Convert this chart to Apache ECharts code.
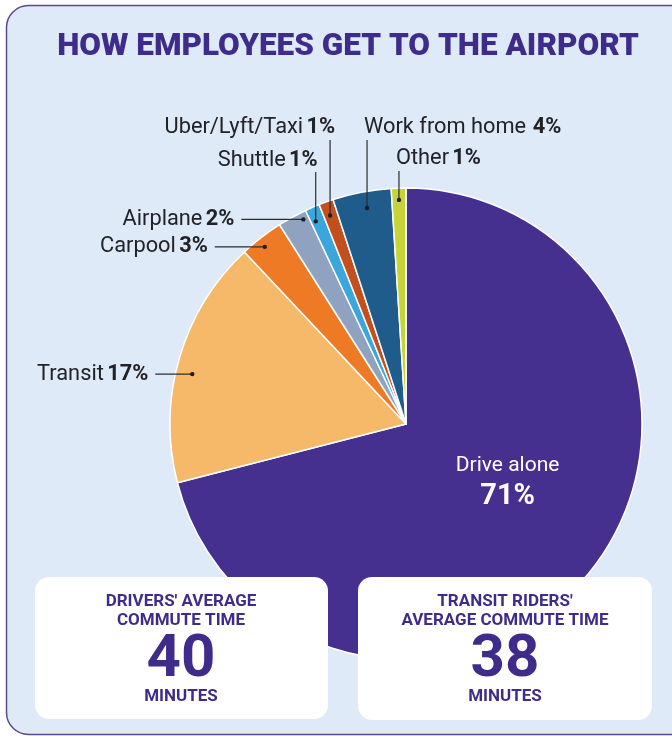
<!DOCTYPE html>
<html>
<head>
<meta charset="utf-8">
<script src="https://cdn.jsdelivr.net/npm/echarts@6/dist/echarts.min.js"></script>
<style>
html,body{margin:0;padding:0;background:#ffffff;}
#chart{width:672px;height:736px;}
</style>
</head>
<body>
<div id="chart"></div>
<script>
// ---- data ----
const titleText = 'HOW EMPLOYEES GET TO THE AIRPORT';
const categories = ['Drive alone', 'Transit', 'Carpool', 'Airplane', 'Shuttle', 'Uber/Lyft/Taxi', 'Work from home', 'Other'];
const shares = [71, 17, 3, 2, 1, 1, 4, 1];
const driversHeading = ["DRIVERS' AVERAGE", 'COMMUTE TIME'];
const driversMinutes = 40;
const transitHeading = ["TRANSIT RIDERS'", 'AVERAGE COMMUTE TIME'];
const transitMinutes = 38;
const minutesUnit = 'MINUTES';

// ---- styles / layout ----
const palette = ['#45308f', '#f6b96a', '#ee7a26', '#8fa2bf', '#3aa6dc', '#c34f1f', '#1f5b8b', '#c5d438'];
const PURPLE = '#3f2c8a';
const CX = 406, CY = 424, R = 236;
const LABEL_FONT = 'Roboto';
const LABEL_SIZE = 21.8;

// where the leader dot sits inside each slice (fraction through slice, radius factor) and where its label goes
const labelPlace = {
  1: {frac: 0.45, rk: 0.93, type: 'left', gap: 44},
  2: {frac: 0.43, rk: 0.96, type: 'left', gap: 57},
  3: {frac: 0.80, rk: 0.97, type: 'left', gap: 69},
  4: {frac: 0.33, rk: 0.94, type: 'top', align: 'right', dx: 2, y: 161, lineTop: 172},
  5: {frac: 0.44, rk: 0.94, type: 'top', align: 'right', dx: 5, y: 128, lineTop: 140},
  6: {frac: 0.54, rk: 0.93, type: 'top', align: 'left', dx: -3, y: 128, lineTop: 140},
  7: {frac: 0.50, rk: 0.95, type: 'top', align: 'left', dx: -3, y: 159, lineTop: 171}
};

// anchor points in polar (radius fraction, cumulative percent) derived from the data
const anchorData = [];
let cum = 0;
shares.forEach((s, i) => {
  const start = cum;
  cum += s;
  if (labelPlace[i]) anchorData.push([labelPlace[i].rk, start + s * labelPlace[i].frac, i]);
});

const pieData = categories.map((c, i) => {
  const d = {name: c, value: shares[i], itemStyle: {color: palette[i]}};
  if (i === 0) {
    d.label = {
      show: true,
      position: 'inside',
      formatter: p => `{w|${p.name}}\n{wb|${p.value}%}`,
      rich: {
        w: {color: '#ffffff', fontSize: 21, fontFamily: LABEL_FONT, lineHeight: 30, align: 'center'},
        wb: {color: '#ffffff', fontSize: 29, fontWeight: 'bold', fontFamily: LABEL_FONT, lineHeight: 32, align: 'center'}
      }
    };
  }
  return d;
});

function renderAnchor(params, api) {
  const i = api.value(2);
  const pt = api.coord([api.value(0), api.value(1)]);
  const L = labelPlace[i];
  const sep = categories[i] === 'Work from home' ? '  ' : ' ';
  const text = `{n|${categories[i]}}${sep}{b|${shares[i]}%}`;
  let tx, ty, align, linePts;
  if (L.type === 'left') {
    tx = pt[0] - L.gap; ty = pt[1]; align = 'right';
    linePts = [[pt[0], pt[1]], [tx + 7, pt[1]]];
  } else {
    tx = pt[0] + L.dx; ty = L.y; align = L.align;
    linePts = [[pt[0], pt[1]], [pt[0], L.lineTop]];
  }
  return {
    type: 'group',
    children: [
      {type: 'polyline', shape: {points: linePts}, style: {stroke: '#2b2b30', lineWidth: 1.2, fill: null}},
      {type: 'circle', shape: {cx: pt[0], cy: pt[1], r: 2.2}, style: {fill: '#1c1c22'}},
      {type: 'text', style: {
        x: tx, y: ty, text: text, align: align, verticalAlign: 'middle',
        textAlign: align, textVerticalAlign: 'middle',
        rich: {
          n: {fill: '#222227', fontSize: LABEL_SIZE, fontFamily: LABEL_FONT},
          b: {fill: '#222227', fontSize: LABEL_SIZE, fontWeight: 'bold', fontFamily: LABEL_FONT}
        }
      }}
    ]
  };
}

const chart = echarts.init(document.getElementById('chart'), null, {renderer: 'canvas'});

function boxTexts(cx, heading, minutes) {
  return [
    {type: 'text', z: 20, style: {x: cx, y: 602, text: heading[0], textAlign: 'center', textVerticalAlign: 'middle', fill: PURPLE, font: 'bold 17px Roboto'}},
    {type: 'text', z: 20, style: {x: cx, y: 621, text: heading[1], textAlign: 'center', textVerticalAlign: 'middle', fill: PURPLE, font: 'bold 17px Roboto'}},
    {type: 'text', z: 20, style: {x: cx, y: 661, text: String(minutes), textAlign: 'center', textVerticalAlign: 'middle', fill: PURPLE, font: 'bold 60px Roboto'}},
    {type: 'text', z: 20, style: {x: cx, y: 697, text: minutesUnit, textAlign: 'center', textVerticalAlign: 'middle', fill: PURPLE, font: 'bold 17px Roboto'}}
  ];
}

const option = {
  animation: false,
  backgroundColor: '#ffffff',
  polar: {center: [CX, CY], radius: R},
  angleAxis: {type: 'value', min: 0, max: 100, startAngle: 90, clockwise: true, show: false},
  radiusAxis: {type: 'value', min: 0, max: 1, show: false},
  graphic: {
    elements: [
      {type: 'rect', z: -5, shape: {x: 6.5, y: 5.5, width: 720, height: 729, r: 22},
        style: {fill: '#deeaf7', stroke: '#5a4a8c', lineWidth: 1.5}},
      {type: 'text', z: 1, style: {x: 348, y: 47, text: titleText, textAlign: 'center', textVerticalAlign: 'middle', fill: PURPLE, font: '900 31.5px Roboto'}},
      {type: 'rect', z: 10, shape: {x: 35, y: 577, width: 293, height: 142, r: 14}, style: {fill: '#ffffff'}},
      {type: 'rect', z: 10, shape: {x: 358, y: 577, width: 294, height: 143, r: 14}, style: {fill: '#ffffff'}}
    ].concat(boxTexts(181, driversHeading, driversMinutes), boxTexts(505, transitHeading, transitMinutes))
  },
  series: [
    {
      type: 'pie',
      z: 2,
      center: [CX, CY],
      radius: [0, R],
      startAngle: 90,
      clockwise: true,
      avoidLabelOverlap: false,
      silent: true,
      itemStyle: {borderColor: '#ffffff', borderWidth: 1.5},
      label: {show: false},
      labelLine: {show: false},
      labelLayout: function (params) {
        if (params.dataIndex === 0) return {dx: 6, dy: -16};
        return {};
      },
      data: pieData
    },
    {
      type: 'custom',
      coordinateSystem: 'polar',
      z: 3,
      silent: true,
      clip: false,
      renderItem: renderAnchor,
      data: anchorData
    }
  ]
};
chart.setOption(option);
</script>
</body>
</html>
